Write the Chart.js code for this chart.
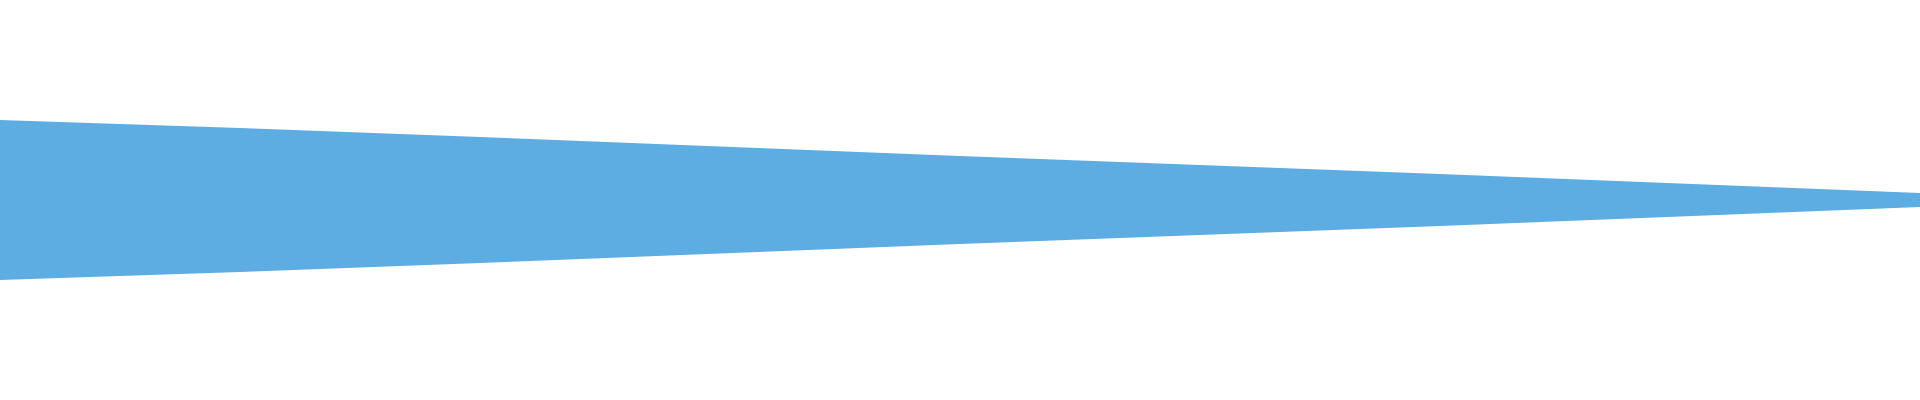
<!DOCTYPE html>
<html>
<head>
<meta charset="utf-8">
<script src="https://cdn.jsdelivr.net/npm/chart.js@4"></script>
<style>
	html, body { margin: 0; padding: 0; background: #fff; }
	#wrap { width: 1920px; height: 400px; }
</style>
</head>
<body>
<div id="wrap"><canvas id="wave"></canvas></div>
<script>
// sample positions along the track and the envelope
const samples = [0, 240, 480, 960, 1440, 1680, 1920]
const upper = [0.40, 0.36, 0.315, 0.22, 0.13, 0.082, 0.035]
const lower = [-0.40, -0.36, -0.315, -0.22, -0.13, -0.082, -0.035]

const color = '#5dade2'

function toPoints(vals) {
	return samples.map(function(s, i) {
		return {x: s, y: vals[i]}
	})
}

new Chart(document.getElementById('wave'), {
	type: 'line',
	data: {
		datasets: [{
			data: toPoints(upper),
			borderWidth: 0,
			pointRadius: 0,
			backgroundColor: color,
			fill: '+1'
		}, {
			data: toPoints(lower),
			borderWidth: 0,
			pointRadius: 0,
			backgroundColor: color,
			fill: false
		}]
	},
	options: {
		responsive: true,
		maintainAspectRatio: false,
		animation: false,
		layout: { padding: 0 },
		plugins: { legend: { display: false }, tooltip: { enabled: false } },
		scales: {
			x: { type: 'linear', min: 0, max: 1920, display: false },
			y: { min: -1, max: 1, display: false }
		}
	}
})
</script>
</body>
</html>
